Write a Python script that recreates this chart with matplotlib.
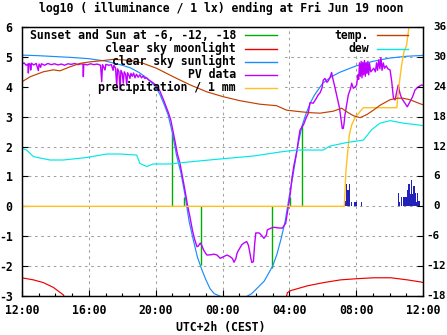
import matplotlib
matplotlib.use("Agg")
import matplotlib.pyplot as plt
from matplotlib.patches import Rectangle
from matplotlib.lines import Line2D

# ---------------- data (hours after Thu 12:00 CEST) ----------------
x_tick_hours = [0, 4, 8, 12, 16, 20, 24]
x_tick_labels = ["12:00", "16:00", "20:00", "00:00", "04:00", "08:00", "12:00"]
y_left_ticks = [-3, -2, -1, 0, 1, 2, 3, 4, 5, 6]
y_right_ticks = [-18, -12, -6, 0, 6, 12, 18, 24, 30, 36]

# sun events (sunset, -6, -12 / -12, -6, sunrise) and clear-sky level there
sun_hours = [9.0, 9.71, 10.73, 14.98, 16.04, 16.77]
sun_values = [2.45, 0.3, -1.96, -2.06, 0.3, 2.69]

moon_hours_a = [0.0, 0.08, 0.68, 1.27, 1.87, 2.47, 2.6]
moon_values_a = [-2.38, -2.40, -2.46, -2.55, -2.71, -2.96, -3.1]
moon_hours_b = [15.8, 15.88, 16.08, 17.08, 18.07, 19.07, 20.07, 21.07, 22.07, 23.06, 23.86, 24.0]
moon_values_b = [-3.1, -2.89, -2.82, -2.66, -2.55, -2.46, -2.42, -2.39, -2.39, -2.46, -2.53, -2.55]

sun_clear_hours = [0, 1, 2, 3, 4, 5, 6, 6.5, 7, 7.5, 8, 8.25, 8.5, 8.75, 9.0, 9.25, 9.5,
                   9.75, 10.0, 10.25, 10.5, 10.75, 11.0, 11.25, 11.5, 11.75, 12.0, 12.5,
                   13.0, 13.5, 13.75, 14.0, 14.5, 15.0, 15.25, 15.5, 15.75, 16.0, 16.25,
                   16.5, 16.75, 17.0, 17.25, 17.5, 18.0, 18.5, 19.0, 20.0, 21.0, 22.0,
                   23.0, 24.0]
sun_clear_values = [5.06, 5.04, 5.01, 4.98, 4.94, 4.86, 4.72, 4.63, 4.48, 4.28, 4.0, 3.75,
                    3.42, 3.05, 2.45, 1.7, 1.15, 0.4, -0.5, -1.12, -1.7, -2.1, -2.45,
                    -2.75, -2.92, -2.98, -3.05, -3.2, -3.15, -3.0, -2.92, -2.78, -2.5,
                    -2.0, -1.62, -1.1, -0.5, 0.35, 1.15, 2.0, 2.68, 3.1, 3.45, 3.72, 4.12,
                    4.33, 4.48, 4.7, 4.85, 4.96, 5.02, 5.05]

pv_hours = [0.00, 0.12, 0.25, 0.35, 0.38, 0.42, 0.50, 0.52, 0.56, 0.70, 0.85, 0.98, 1.02,
            1.12, 1.16, 1.35, 1.55, 1.75, 1.95, 2.15, 2.35, 2.55, 2.75, 2.95, 3.15, 3.35,
            3.55, 3.65, 3.67, 3.70, 3.9, 4.1, 4.3, 4.5, 4.7, 4.77, 4.82, 4.97, 5.02, 5.2,
            5.35, 5.45, 5.5, 5.6, 5.67, 5.72, 5.8, 5.87, 5.92, 6.0, 6.06, 6.12, 6.2, 6.27,
            6.32, 6.4, 6.46, 6.52, 6.6, 6.68, 6.76, 6.85, 6.95, 7.05, 7.15, 7.25, 7.35,
            7.45, 7.6,
            7.75, 8.0, 8.25, 8.5, 8.75, 8.9, 9.0, 9.15, 9.3, 9.45, 9.6, 9.75, 9.9, 10.05,
            10.2, 10.33, 10.47, 10.55, 10.67, 10.75, 10.87, 11.0, 11.07, 11.3, 11.5, 11.67,
            11.87, 12.0, 12.27, 12.45, 12.6, 12.69, 12.8, 12.87, 12.95, 13.15, 13.3, 13.45,
            13.55, 13.62, 13.7, 13.76, 13.85, 13.92, 13.99, 14.19, 14.3, 14.48, 14.63,
            14.68, 14.9, 15.08, 15.3, 15.58, 15.78,
            15.9, 16.0, 16.06, 16.15, 16.26, 16.36, 16.46, 16.55, 16.64, 16.75, 16.84, 17.0,
            17.13, 17.24, 17.43, 17.6, 17.73, 17.84, 17.95, 18.03, 18.13, 18.25, 18.33,
            18.43, 18.53, 18.6, 18.7, 18.8, 18.9, 19.0, 19.07, 19.17, 19.23, 19.27, 19.33,
            19.43, 19.53, 19.67, 19.73, 19.83, 19.95, 20.03, 20.1, 20.15, 20.2, 20.25,
            20.3, 20.35, 20.4, 20.45, 20.5, 20.55, 20.6, 20.65, 20.7, 20.75, 20.8, 20.87,
            20.95, 21.05, 21.15, 21.22, 21.28, 21.35, 21.42, 21.48, 21.55, 21.62, 21.7,
            21.8, 21.9, 22.03, 22.13, 22.23, 22.33, 22.43, 22.52, 22.62, 22.72, 22.8,
            22.92, 23.06, 23.22, 23.38, 23.52, 23.72, 23.92, 24.0]
pv_values = [4.75, 4.80, 4.72, 4.76, 4.46, 4.78, 4.74, 4.56, 4.79, 4.73, 4.78, 4.54, 4.76,
             4.65, 4.77, 4.72, 4.78, 4.74, 4.77, 4.73, 4.76, 4.72, 4.77, 4.75, 4.78, 4.74,
             4.77, 4.75, 4.34, 4.76, 4.73, 4.77, 4.74, 4.76, 4.72, 4.17, 4.74, 4.56, 4.75,
             4.72, 4.74, 4.55, 4.72, 4.62, 4.0, 4.6, 4.5, 3.89, 4.55, 4.45, 4.12, 4.5, 4.42,
             4.06, 4.47, 4.38, 4.28, 4.45, 4.35, 4.46, 4.3, 4.42, 4.32, 4.4, 4.3, 4.36,
             4.28, 4.3, 4.22,
             4.17, 4.06, 3.86, 3.52, 3.15, 2.9, 2.62, 2.2, 1.75, 1.45, 1.0, 0.55, 0.05,
             -0.35, -0.8, -1.1, -1.35, -1.33, -1.23, -1.3, -1.46, -1.58, -1.63, -1.62,
             -1.6, -1.63, -1.74, -1.7, -1.63, -1.68, -1.75, -1.87, -1.75, -1.57, -1.48,
             -1.29, -1.22, -1.18, -1.3, -1.5, -1.75, -1.88, -1.85, -1.3, -0.89, -0.89,
             -0.95, -1.07, -0.96, -0.79, -0.73, -0.7, -0.72, -0.73, -0.57,
             -0.15, 0.2, 0.44, 0.9, 1.33, 1.6, 1.89, 2.25, 2.55, 2.65, 2.72, 2.95, 3.11,
             3.47, 3.45, 3.6, 3.73, 3.8, 3.95, 4.22, 4.28, 4.15, 4.2, 4.3, 4.48, 4.28, 4.05,
             3.8, 3.56, 3.3, 3.0, 2.6, 2.61, 2.75, 3.06, 3.39, 3.73, 3.95, 4.12, 3.95, 4.0,
             4.06, 4.4, 4.25, 4.8, 4.35, 4.85, 4.3, 4.82, 4.4, 4.88, 4.35, 4.8, 4.45, 4.85,
             4.4, 4.78, 4.5, 4.55, 4.62, 4.5, 4.8, 4.55, 4.9, 4.6, 4.98, 4.55, 4.8, 4.62,
             4.7, 4.6, 4.56, 4.17, 3.62, 3.56, 3.84, 4.06, 3.78, 3.62, 3.55, 3.45, 3.33,
             3.5, 3.67, 3.89, 4.0, 4.06, 4.05]

precip_hours = [0.0, 19.29, 19.39, 19.59, 19.73, 19.93, 20.23, 20.43, 22.43, 22.52, 22.72,
                22.86, 23.02, 23.16, 23.5]
precip_values = [0.0, 0.0, 1.2, 2.39, 2.72, 2.97, 3.17, 3.3, 3.3, 3.84, 4.73, 5.17, 5.4,
                 6.0, 7.5]

rain_hours = [19.35, 19.41, 19.51, 19.59, 19.71, 19.93, 19.99, 20.33,
              22.52, 22.58, 22.73, 22.86, 22.92, 22.98, 23.08, 23.16, 23.24, 23.32,
              23.38, 23.46, 23.54, 23.60, 23.68, 23.76]
rain_values = [0.19, 0.75, 0.56, 0.75, 0.14, 0.14, 0.14, 0.14,
               0.43, 0.14, 0.3, 0.3, 0.3, 0.3, 0.56, 0.75, 0.41, 0.87, 0.41, 0.67,
               0.43, 0.14, 0.43, 0.19]

temp_hours = [0.0, 0.48, 1.27, 1.87, 2.27, 2.87, 3.47, 4.07, 4.67, 5.46, 6.06, 6.66, 7.26,
              8.06, 9.06, 10.05, 11.05, 12.05, 13.05, 14.24, 15.24, 15.84, 16.64, 17.24,
              17.84, 18.63, 19.13, 19.43, 19.83, 20.23, 20.63, 21.03, 21.43, 22.03, 22.43,
              22.82, 23.22, 23.82, 24.0]
temp_values = [25.0, 26.0, 27.0, 27.4, 27.2, 28.0, 28.7, 29.0, 29.2, 29.5, 29.4, 29.2, 28.7,
               27.7, 26.0, 24.4, 23.0, 22.0, 21.2, 20.5, 20.2, 19.3, 19.0, 18.8, 18.7, 19.1,
               19.7, 19.0, 18.2, 17.8, 18.4, 19.3, 20.3, 21.4, 21.7, 21.7, 21.4, 20.6, 20.4]

dew_hours = [0.0, 0.28, 0.68, 1.08, 1.68, 2.47, 3.87, 5.07, 5.87, 6.86, 7.06, 7.46, 7.86,
             8.86, 10.25, 11.85, 13.84, 15.64, 16.44, 18.03, 18.43, 19.43, 20.43, 20.93,
             21.43, 22.03, 22.82, 23.82, 24.0]
dew_values = [11.6, 11.3, 10.0, 9.7, 9.3, 9.3, 9.8, 10.5, 10.5, 10.3, 8.6, 8.0, 8.5, 8.5,
              9.0, 9.5, 10.1, 11.0, 11.3, 11.3, 12.1, 12.8, 13.3, 15.4, 16.7, 17.2, 16.7,
              16.3, 16.2]

title_text = "log10 ( illuminance / 1 lx) ending at Fri Jun 19 noon"
xlabel_text = "UTC+2h (CEST)"
left_keys = ["Sunset and Sun at -6, -12, -18", "clear sky moonlight",
             "clear sky sunlight", "PV data", "precipitation / 1 mm"]
right_keys = ["temp.", "dew"]

# ---------------- styling ----------------
W, H = 447, 335
FONT = dict(family="DejaVu Sans Mono", weight="bold", size=8.3)
FONT_R = dict(family="DejaVu Sans Mono", weight="bold", size=7.8)
C_GREEN = "#00b000"
C_RED = "#ee0000"
C_BLUE = "#1a8cff"
C_PURPLE = "#c000ff"
C_ORANGE = "#ffc020"
C_BROWN = "#c04000"
C_CYAN = "#00e8e8"
C_BAR = "#2222bb"
C_GRID = "#a0a0a0"
LW = 0.85

def fx(px):
    return px / W

def fy(py):
    return 1 - py / H

fig = plt.figure(figsize=(W / 100, H / 100), dpi=100)
ax = fig.add_axes([fx(22), fy(296), 401 / W, 269 / H])
ax.set_xlim(0, 24)
ax.set_ylim(-3, 6)
ax2 = ax.twinx()
ax2.set_ylim(-18, 36)

for a in (ax, ax2):
    for s in a.spines.values():
        s.set_linewidth(0.9)
        s.set_color("black")

# grid
for h in x_tick_hours[1:-1]:
    ax.axvline(h, color=C_GRID, lw=0.75, dashes=(2.5, 3.5), zorder=0.5)
for v in y_left_ticks[1:-1]:
    ax.axhline(v, color=C_GRID, lw=0.75, dashes=(2.5, 3.5), zorder=0.5)

# key areas hide the grid
ax.add_patch(Rectangle((0, 3.76), 15.74, 2.5, facecolor="white", edgecolor="none", zorder=0.8))
ax.add_patch(Rectangle((18.43, 5.13), 5.1, 1.0, facecolor="white", edgecolor="none", zorder=0.8))

# series
ax.vlines(sun_hours, 0, sun_values, color=C_GREEN, lw=1.0, zorder=2)
ax.plot(moon_hours_a, moon_values_a, color=C_RED, lw=LW, zorder=2)
ax.plot(moon_hours_b, moon_values_b, color=C_RED, lw=LW, zorder=2)
ax.plot(sun_clear_hours, sun_clear_values, color=C_BLUE, lw=LW, zorder=2.1)
ax.plot(pv_hours, pv_values, color=C_PURPLE, lw=1.0, zorder=2.2)
ax.bar(rain_hours, rain_values, width=0.065, color=C_BAR, zorder=2.3)
ax.plot(precip_hours, precip_values, color=C_ORANGE, lw=1.0, zorder=2.4)
ax2.plot(temp_hours, temp_values, color=C_BROWN, lw=LW, zorder=2)
ax2.plot(dew_hours, dew_values, color=C_CYAN, lw=LW, zorder=2)

# ticks
ax.set_xticks(x_tick_hours)
ax.set_xticklabels(x_tick_labels, fontdict=FONT)
ax.set_xticks(range(0, 25), minor=True)
ax.set_yticks(y_left_ticks)
ax.set_yticklabels([str(v) for v in y_left_ticks], fontdict=FONT)
ax.tick_params(axis="x", which="major", direction="in", length=4, width=0.8, pad=6)
ax.tick_params(axis="x", which="minor", direction="in", length=2, width=0.8)
ax.tick_params(axis="y", direction="in", length=4, width=0.8, pad=6.8)
ax2.set_yticks(y_right_ticks)
ax2.set_yticklabels([])
ax2.tick_params(axis="y", direction="in", length=4, width=0.8)
for v in y_right_ticks:
    py = 296 - (v + 18) / 54 * 269
    fig.text(fx(433 if v >= 0 else 426.5), fy(py), str(v), ha="left", va="center",
             fontdict=FONT_R)

# title / xlabel
fig.text(fx(221), fy(8), title_text, ha="center", va="center", fontdict=FONT)
fig.text(fx(221), fy(327), xlabel_text, ha="center", va="center", fontdict=FONT)

# key
left_colors = [C_GREEN, C_RED, C_BLUE, C_PURPLE, C_ORANGE]
right_colors = [C_BROWN, C_CYAN]
rows = [35.3, 48.5, 61.6, 74.7, 87.8]
for label, col, py in zip(left_keys, left_colors, rows):
    fig.text(fx(236), fy(py), label, ha="right", va="center", fontdict=FONT, zorder=5)
    fig.add_artist(Line2D([fx(245), fx(277)], [fy(py), fy(py)], color=col, lw=1.0))
for label, col, py in zip(right_keys, right_colors, rows):
    fig.text(fx(369), fy(py), label, ha="right", va="center", fontdict=FONT, zorder=5)
    fig.add_artist(Line2D([fx(377), fx(408)], [fy(py), fy(py)], color=col, lw=1.0))

fig.savefig("out.png", dpi=100)
